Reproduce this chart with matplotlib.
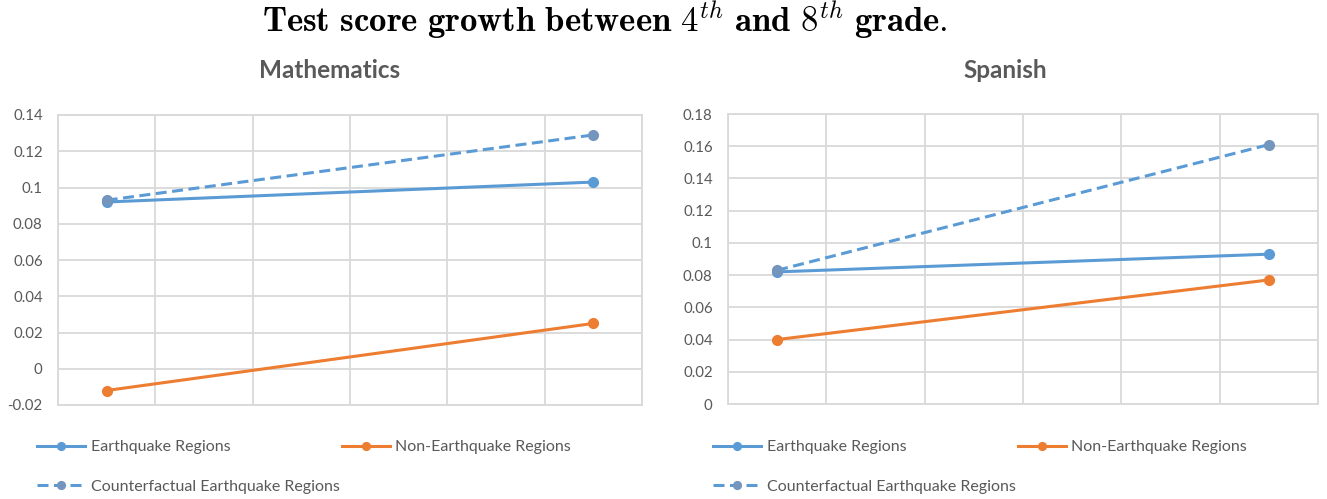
import numpy as np
import matplotlib
matplotlib.use('Agg')
from matplotlib import pyplot as plt

# test score growth, 4th grade -> 8th grade
grades = ['4th', '8th']

math_quake = [0.092, 0.103]
math_nonquake = [-0.012, 0.025]
math_counter = [0.093, 0.129]

span_quake = [0.082, 0.093]
span_nonquake = [0.040, 0.077]
span_counter = [0.083, 0.161]

math_ticks = [-0.02, 0, 0.02, 0.04, 0.06, 0.08, 0.1, 0.12, 0.14]
span_ticks = [0, 0.02, 0.04, 0.06, 0.08, 0.1, 0.12, 0.14, 0.16, 0.18]

BLUE = '#5b9bd5'
ORANGE = '#ed7d31'
CF_MARKER = '#7495bd'
GRID = '#d9d9d9'
TEXT = '#595959'
FONT = 'Lato'

plt.rcParams['mathtext.fontset'] = 'cm'


def fmt(v):
    return f'{v:g}'


def panel(ax, quake, nonquake, counter, ticks, title, title_x, leg_x):
    x = np.arange(len(grades))
    l1, = ax.plot(x, quake, color=BLUE, lw=2.2, marker='o', ms=7, zorder=3)
    l2, = ax.plot(x, nonquake, color=ORANGE, lw=2.2, marker='o', ms=7, zorder=3)
    l3, = ax.plot(x, counter, color=BLUE, lw=2.2, ls=(0, (3.6, 1.8)), marker='o', ms=7,
                  mfc=CF_MARKER, mec=CF_MARKER, zorder=3)

    ax.set_xlim(-0.1, 1.1)
    ax.set_xticks(np.linspace(-0.1, 1.1, 7))
    ax.set_xticklabels([])
    ax.set_ylim(ticks[0], ticks[-1])
    ax.set_yticks(ticks)
    ax.set_yticklabels([fmt(t) for t in ticks], fontfamily=FONT, fontsize=10.8, color=TEXT)
    ax.tick_params(length=0, pad=11)
    ax.grid(True, color=GRID, lw=1.3)
    ax.set_axisbelow(True)
    for s in ax.spines.values():
        s.set_color(GRID)
        s.set_linewidth(1.3)

    fig.text(title_x, 1 - 70 / 499, title, ha='center', va='center', fontfamily=FONT,
             fontweight='bold', fontsize=17.5, color=TEXT)

    ax.legend([l1, l3, l2],
              ['Earthquake Regions', 'Counterfactual Earthquake Regions', 'Non-Earthquake Regions'],
              ncol=2, loc='upper left', bbox_to_anchor=(leg_x, 1 - 440 / 499),
              bbox_transform=fig.transFigure, frameon=False, borderpad=0, borderaxespad=0,
              handlelength=3.0, handletextpad=0.35, columnspacing=0.15, labelspacing=1.6,
              markerscale=0.8, prop={'family': FONT, 'size': 11.5}, labelcolor=TEXT)


fig = plt.figure(figsize=(13.27, 4.99), dpi=100)
ax1 = fig.add_axes([58 / 1327, 1 - 405 / 499, 584 / 1327, 290 / 499])
ax2 = fig.add_axes([728 / 1327, 1 - 404 / 499, 590 / 1327, 290 / 499])

panel(ax1, math_quake, math_nonquake, math_counter, math_ticks, 'Mathematics', 330 / 1327, 37 / 1327)
panel(ax2, span_quake, span_nonquake, span_counter, span_ticks, 'Spanish', 1005 / 1327, 713 / 1327)

fig.text(605 / 1327, 1 - 21 / 499,
         r'$\mathbf{Test\ score\ growth\ between\ }4^{th}\mathbf{\ and\ }8^{th}\mathbf{\ grade.}$',
         ha='center', va='center', fontsize=25)

fig.savefig('out.png', dpi=100)
